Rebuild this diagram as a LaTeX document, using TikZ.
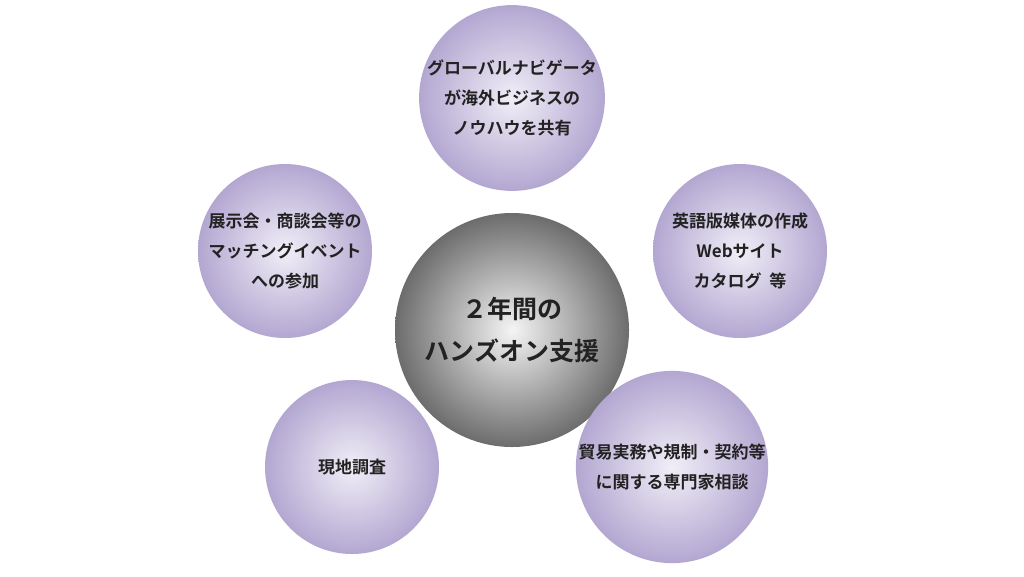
\documentclass[tikz,border=0pt]{standalone}
\usepackage{fontspec}
\newfontfamily\jp{Noto Sans CJK JP Bold}
\definecolor{lavin}{HTML}{F1EEF7}
\definecolor{lavout}{HTML}{B3A7D1}
\definecolor{txt}{HTML}{222222}
\begin{document}
\begin{tikzpicture}[x=1pt,y=-1pt,
  outer/.style={circle,minimum size=174pt,inner sep=0pt,inner color=lavin,outer color=lavout,
    text=txt,font=\jp\fontsize{17}{30}\selectfont,align=center},
  centre/.style={circle,minimum size=234pt,inner sep=0pt,inner color=white!92!gray,outer color=gray!85!black,
    text=txt,font=\jp\fontsize{25}{42}\selectfont,align=center}]
\useasboundingbox (0,0) rectangle (1024,576);
\fill[white] (0,0) rectangle (1024,576);
\node[centre] (c) at (512,330) {２年間の\\ハンズオン支援};
\node[outer] (t) at (512,98) {グローバルナビゲータ\\が海外ビジネスの\\ノウハウを共有};
\node[outer] (r) at (740,251) {英語版媒体の作成\\Webサイト\\カタログ\ \ 等};
\node[outer] (l) at (285,251) {展示会・商談会等の\\マッチングイベント\\への参加};
\node[outer] (bl) at (352,467) {現地調査};
\node[outer] (br) at (672,467) {貿易実務や規制・契約等\\に関する専門家相談};
\end{tikzpicture}
\end{document}
